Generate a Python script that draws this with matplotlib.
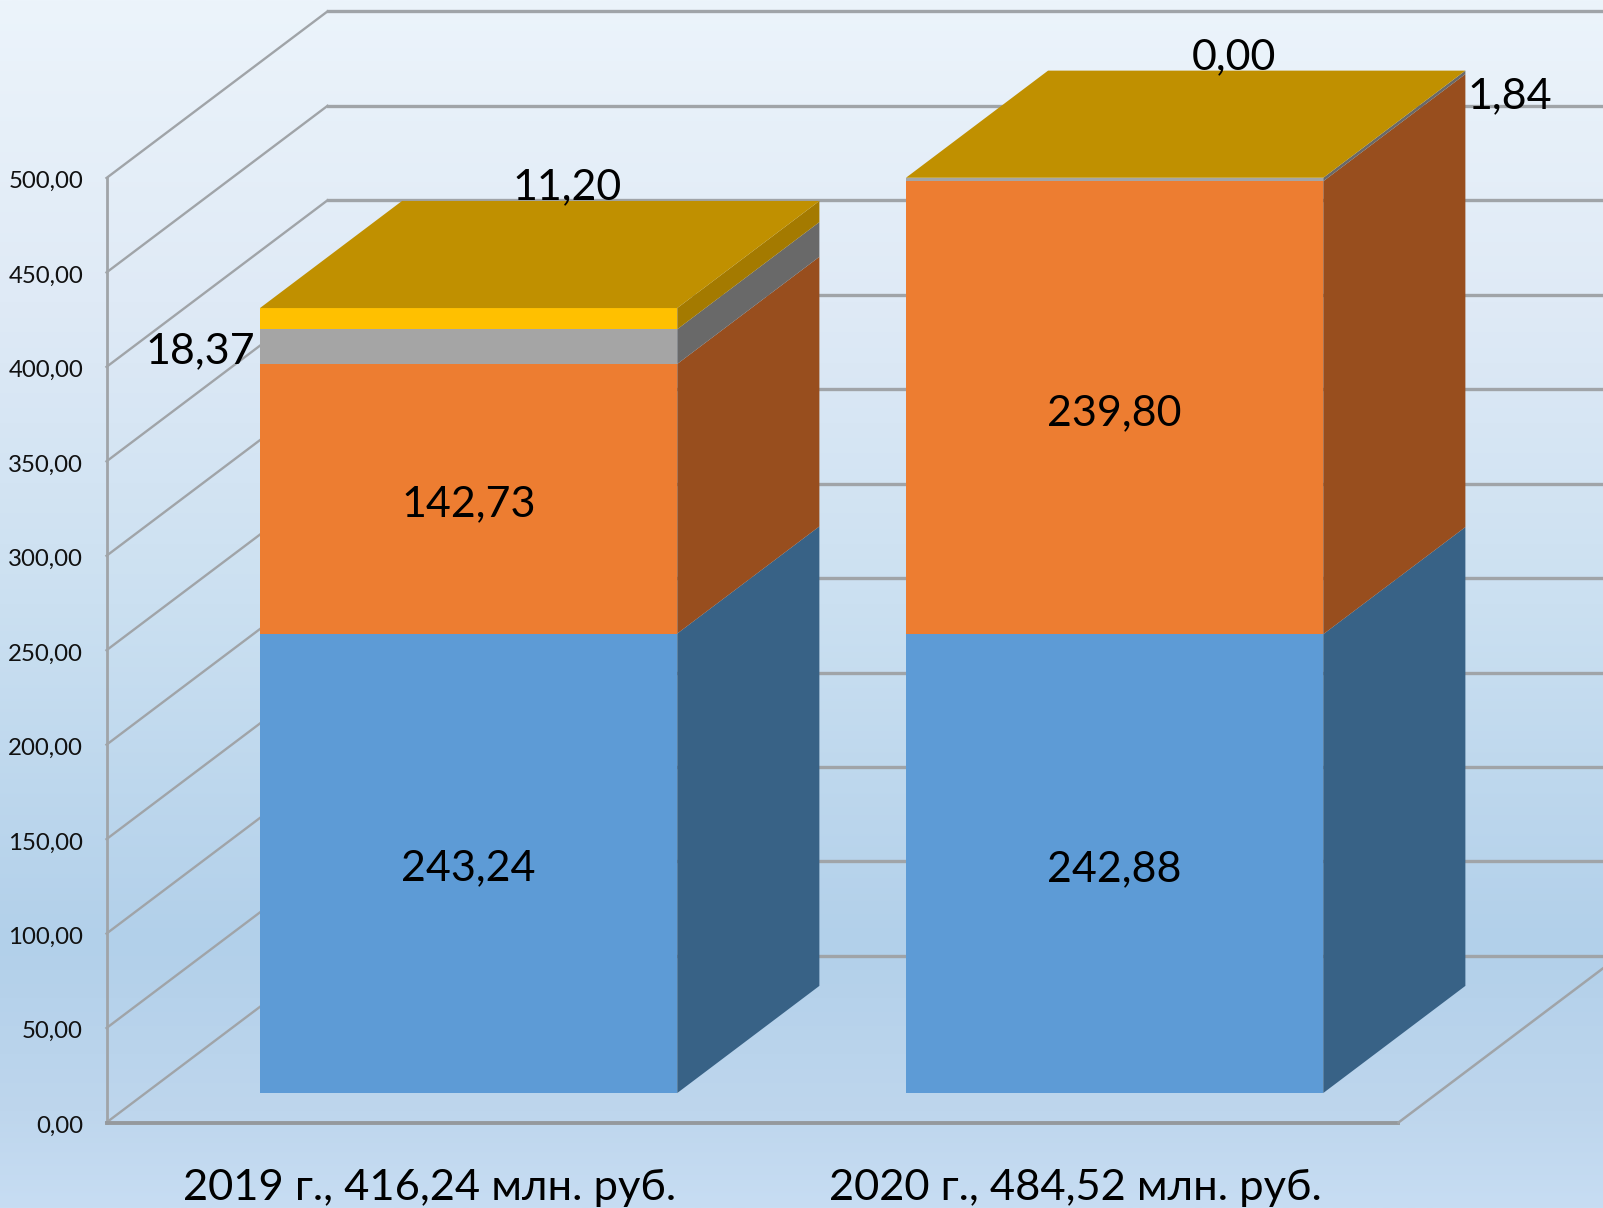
import numpy as np
import matplotlib
matplotlib.use("Agg")
import matplotlib.pyplot as plt
from matplotlib.patches import Polygon

plt.rcParams['font.family'] = ['Lato', 'Noto Sans', 'DejaVu Sans']

categories = ["2019 г., 416,24 млн. руб.", "2020 г., 484,52 млн. руб."]
series_1 = [243.24, 242.88]
series_2 = [142.73, 239.80]
series_3 = [18.37, 1.84]
series_4 = [11.20, 0.00]
y_ticks = [0, 50, 100, 150, 200, 250, 300, 350, 400, 450, 500]

W, H = 1603, 1208

# pixel layout of the front plane
X0_PX = 429.5
CAT_PX = 646
Y0_PX = 1122.5
UNIT_PX = 1.889


def data_x(px):
    return (px - X0_PX) / CAT_PX


def data_y(py):
    return (Y0_PX - py) / UNIT_PX


# full depth of the box in data units
DX = 221 / CAT_PX
DY = 166.6 / UNIT_PX
D_FRONT = 0.177
D_BACK = 0.82
HALF = 0.323
LABEL_SIZE = 31
LABEL_DROP = 2.7  # value units, text sits a bit low in the original


def fmt(v):
    return f"{v:.2f}".replace(".", ",")


def pt(x, y, d):
    return (x + d * DX, y + d * DY)


fig = plt.figure(figsize=(W / 100, H / 100), dpi=100)
ax = fig.add_axes([0, 0, 1, 1])
ax.set_xlim(data_x(0), data_x(W))
ax.set_ylim(data_y(H), data_y(0))
ax.axis("off")

# background
stops_y = [0, 0.25, 0.5, 0.78, 0.92, 1]
stops_r = [236, 223, 203, 178, 190, 199]
stops_g = [244, 234, 224, 208, 214, 221]
stops_b = [251, 246, 241, 234, 237, 243]
t = np.linspace(0, 1, 600)
grad = np.dstack([np.interp(t, stops_y, stops_r),
                  np.interp(t, stops_y, stops_g),
                  np.interp(t, stops_y, stops_b)]) / 255
grad = grad.reshape(600, 1, 3)
ax.imshow(grad, extent=[data_x(0), data_x(W), data_y(H), data_y(0)],
          aspect="auto", zorder=0, origin="upper")

# walls
GRID = "#a0a4a8"
LEFT, RIGHT = -0.5, 1.5
for tick in y_ticks:
    a = pt(LEFT, tick, 0)
    b = pt(LEFT, tick, 1)
    c = pt(RIGHT, tick, 1)
    ax.plot([a[0], b[0]], [a[1], b[1]], color=GRID, lw=1.7, zorder=1)
    ax.plot([b[0], c[0]], [b[1], c[1]], color=GRID, lw=2.4, zorder=1)
    ax.text(data_x(83), tick - 2, fmt(tick), fontsize=17.3,
            ha="right", va="center", color="#111111", zorder=5)
ax.plot([LEFT, LEFT], [0, 500], color=GRID, lw=2, zorder=1)
ax.plot([LEFT, RIGHT], [0, 0], color="#95999d", lw=2.8, zorder=1)
a = pt(RIGHT, 0, 0)
b = pt(RIGHT, 0, 1)
ax.plot([a[0], b[0]], [a[1], b[1]], color=GRID, lw=1.8, zorder=1)

# bars
series = [series_1, series_2, series_3, series_4]
fronts = ["#5d9bd6", "#ed7d31", "#a5a5a5", "#ffc000"]
sides = ["#386286", "#984e1e", "#696969", "#a47a00"]
TOP = "#c09000"

for i in range(len(categories)):
    x1, x2 = i - HALF, i + HALF
    base = 0
    for vals, fc, sc in zip(series, fronts, sides):
        v = vals[i]
        if v > 0:
            top = base + v
            ax.add_patch(Polygon([pt(x1, base, D_FRONT), pt(x2, base, D_FRONT),
                                  pt(x2, top, D_FRONT), pt(x1, top, D_FRONT)],
                                 fc=fc, ec="none", zorder=3))
            ax.add_patch(Polygon([pt(x2, base, D_FRONT), pt(x2, top, D_FRONT),
                                  pt(x2, top, D_BACK), pt(x2, base, D_BACK)],
                                 fc=sc, ec="none", zorder=3))
            base = top
    ax.add_patch(Polygon([pt(x1, base, D_FRONT), pt(x2, base, D_FRONT),
                          pt(x2, base, D_BACK), pt(x1, base, D_BACK)],
                         fc=TOP, ec="none", zorder=3))

# value labels in the middle of the two big segments
for i in range(len(categories)):
    lx, ly = pt(i, series_1[i] / 2, D_FRONT)
    ax.text(lx, ly - LABEL_DROP, fmt(series_1[i]), fontsize=LABEL_SIZE,
            ha="center", va="center", color="black", zorder=6)
    lx, ly = pt(i, series_1[i] + series_2[i] / 2, D_FRONT)
    ax.text(lx, ly - LABEL_DROP, fmt(series_2[i]), fontsize=LABEL_SIZE,
            ha="center", va="center", color="black", zorder=6)

# the small ones were moved by hand in the original
ax.text(data_x(200), data_y(351), fmt(series_3[0]), fontsize=LABEL_SIZE,
        ha="center", va="center", color="black", zorder=6)
ax.text(data_x(567.5), data_y(187), fmt(series_4[0]), fontsize=LABEL_SIZE,
        ha="center", va="center", color="black", zorder=6)
ax.text(data_x(1510), data_y(96), fmt(series_3[1]), fontsize=LABEL_SIZE,
        ha="center", va="center", color="black", zorder=6)
ax.text(data_x(1234), data_y(57), fmt(series_4[1]), fontsize=LABEL_SIZE,
        ha="center", va="center", color="black", zorder=6)

for i, c in enumerate(categories):
    ax.text(i, data_y(1188), c, fontsize=31.3, ha="center", va="center",
            color="black", zorder=6)

fig.savefig("out.png", dpi=100)
